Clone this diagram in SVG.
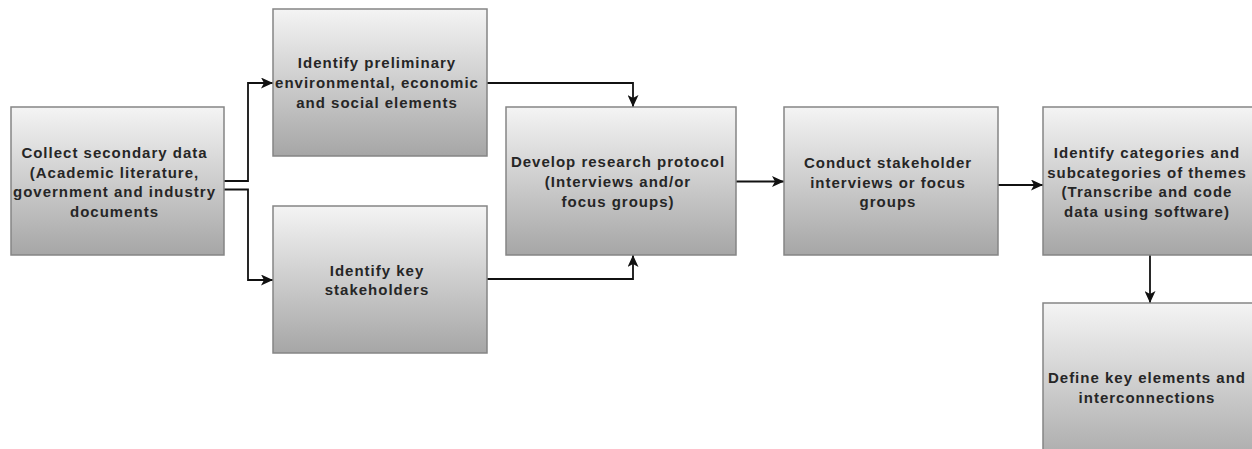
<svg xmlns="http://www.w3.org/2000/svg" width="1252" height="449" viewBox="0 0 1252 449">
<defs>
<linearGradient id="g" x1="0" y1="0" x2="0" y2="1">
<stop offset="0" stop-color="#f4f4f4"/>
<stop offset="1" stop-color="#a6a6a6"/>
</linearGradient>
<marker id="arr" viewBox="0 0 12 11" refX="12" refY="5.5" markerWidth="12" markerHeight="11" markerUnits="userSpaceOnUse" orient="auto">
<path d="M0,0 L12,5.5 L0,11 L3,5.5 z" fill="#111"/>
</marker>
<style>
.box{fill:url(#g);stroke:#858585;stroke-width:1.5}
.t{font-family:"Liberation Sans",Arial,sans-serif;font-weight:bold;font-size:15px;letter-spacing:1px;fill:#262626;text-anchor:middle}
.c{fill:none;stroke:#111;stroke-width:1.8;marker-end:url(#arr)}
</style>
</defs>
<rect width="1252" height="449" fill="#ffffff"/>
<g id="connectors">
<path class="c" d="M224,181 H248 V83 H273"/>
<path class="c" d="M224,189.5 H248 V280 H273"/>
<path class="c" d="M487,83 H633 V107"/>
<path class="c" d="M487,279 H633 V255"/>
<path class="c" d="M736,181.5 H784"/>
<path class="c" d="M998,185 H1043"/>
<path class="c" d="M1150,255 V303"/>
</g>
<g id="n1">
<rect class="box" x="11" y="107" width="213" height="148"/>
<text class="t" x="114.5" y="158">Collect secondary data</text>
<text class="t" x="114.5" y="177.5">(Academic literature,</text>
<text class="t" x="114.5" y="197">government and industry</text>
<text class="t" x="114.5" y="216.5">documents</text>
</g>
<g id="n2">
<rect class="box" x="273" y="9" width="214" height="147"/>
<text class="t" x="377" y="68">Identify preliminary</text>
<text class="t" x="377" y="88">environmental, economic</text>
<text class="t" x="377" y="107.5">and social elements</text>
</g>
<g id="n3">
<rect class="box" x="273" y="206" width="214" height="147"/>
<text class="t" x="377" y="275.5">Identify key</text>
<text class="t" x="377" y="295">stakeholders</text>
</g>
<g id="n4">
<rect class="box" x="506" y="107" width="230" height="148"/>
<text class="t" x="618" y="167">Develop research protocol</text>
<text class="t" x="618" y="187">(Interviews and/or</text>
<text class="t" x="618" y="207">focus groups)</text>
</g>
<g id="n5">
<rect class="box" x="784" y="107" width="214" height="148"/>
<text class="t" x="888" y="167.5">Conduct stakeholder</text>
<text class="t" x="888" y="187.5">interviews or focus</text>
<text class="t" x="888" y="207">groups</text>
</g>
<g id="n6">
<rect class="box" x="1043" y="107" width="214" height="148"/>
<text class="t" x="1147" y="158">Identify categories and</text>
<text class="t" x="1147" y="178">subcategories of themes</text>
<text class="t" x="1147" y="197">(Transcribe and code</text>
<text class="t" x="1147" y="216.5">data using software)</text>
</g>
<g id="n7">
<rect class="box" x="1043" y="303" width="214" height="168"/>
<text class="t" x="1147" y="383">Define key elements and</text>
<text class="t" x="1147" y="402.5">interconnections</text>
</g>
</svg>
